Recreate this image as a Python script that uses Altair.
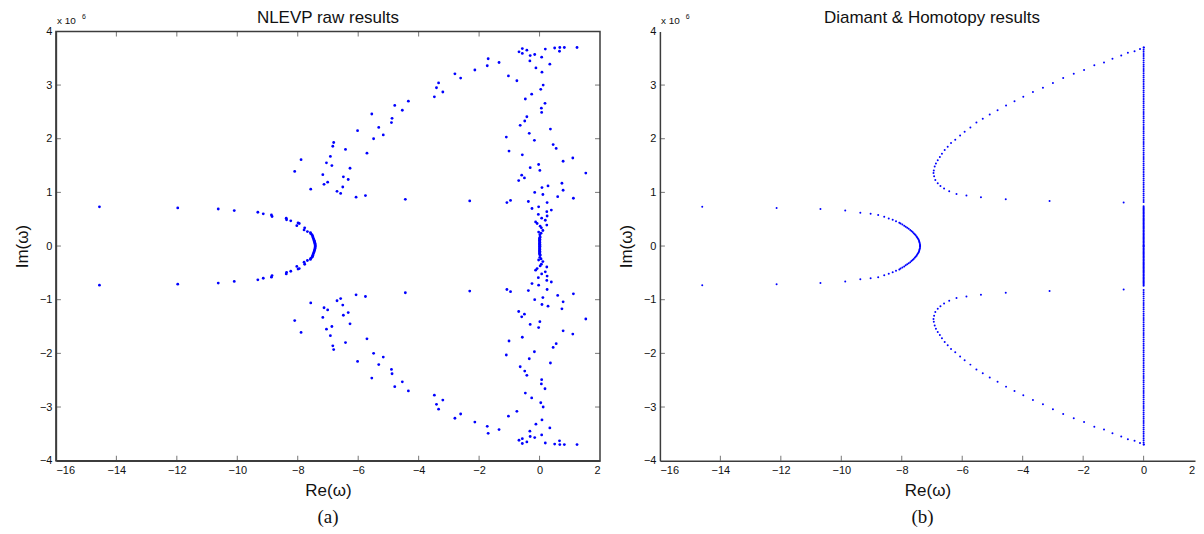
import altair as alt
import pandas as pd

# ---------------- data (Im values in units of 1e6; upper half, conjugates mirrored) -------------
# Panel (a): NLEVP raw results
a_re = [
    -14.56, -11.97, -10.63, -10.10, -9.32, -9.14, -8.87, -8.85, -8.38, -8.37, -8.23, -7.99, -7.95, -8.03,
    -7.77, -7.79, -7.68, -7.58, -7.57, -7.53, -7.51, -7.50, -7.49, -7.475, -7.46, -7.45, -7.44, -7.43,
    -7.425, -7.42,
    -4.34, -4.79, -4.54, -5.55, -4.88, -4.90, -5.32, -6.02, -5.17, -5.49, -6.81, -6.84, -6.42, -5.71,
    -6.92, -7.89, -7.05, -6.87, -6.27, -8.10, -7.17, -6.49, -6.33, -7.01, -7.13, -6.51, -7.57, -6.70,
    -6.58, -5.76, -6.07, -4.44,
    -0.57, -0.42, -0.68, -0.57, 0.19, 0.50, 0.67, 0.82, 1.24, 0.66, -0.31, -0.16, 0.07, -0.32, -1.70,
    -1.34, 0.34, -1.73, -0.12, -2.14, 0.08, -2.80, -2.61, -1.03, -0.75, -3.34, -3.41, -3.20, -3.48,
    0.12, 0.04, -0.26, -0.47, 0.18, 0.06, 0.07, -0.42, -0.49, -0.64, 0.36, -0.34, -1.10, -0.17, 0.45,
    0.55, -1.01, -0.57, 1.10, 0.78, -0.03, -0.31, 0.01, 1.53, -0.59, -0.50, -0.69, 0.74, 0.28, 0.08,
    0.78, -0.16, 0.11, 0.60, 1.12, -2.31, -1.08, -0.96, -0.37, 0.25, -0.03, -0.25, 0.39, 0.24, -0.04,
    0.25, 0.07, 0.19, -0.13, -0.08, 0.24, 0.02, 0.06, 0.11, -0.03, 0.05, 0.01, 0.02,
    0.01, 0.0, 0.01, 0.0, 0.01, 0.0, 0.01, 0.0, 0.01, 0.0, 0.01,
]
a_im = [
    0.73, 0.71, 0.69, 0.66, 0.63, 0.60, 0.58, 0.55, 0.52, 0.49, 0.47, 0.43, 0.42, 0.38,
    0.34, 0.30, 0.27, 0.25, 0.23, 0.21, 0.19, 0.17, 0.15, 0.13, 0.11, 0.09, 0.07, 0.05,
    0.03, 0.01,
    2.70, 2.62, 2.53, 2.46, 2.38, 2.30, 2.21, 2.15, 2.07, 2.00, 1.93, 1.86, 1.80, 1.73,
    1.67, 1.61, 1.55, 1.50, 1.45, 1.39, 1.33, 1.29, 1.24, 1.19, 1.15, 1.10, 1.06, 1.02,
    0.98, 0.94, 0.91, 0.87,
    3.68, 3.65, 3.62, 3.59, 3.67, 3.69, 3.70, 3.70, 3.70, 3.63, 3.55, 3.57, 3.52, 3.45, 3.49,
    3.42, 3.39, 3.36, 3.32, 3.28, 3.24, 3.21, 3.13, 3.17, 3.08, 3.04, 2.95, 2.87, 2.78,
    3.00, 2.92, 2.83, 2.74, 2.66, 2.57, 2.49, 2.41, 2.33, 2.25, 2.18, 2.10, 2.03, 1.97, 1.89,
    1.82, 1.77, 1.70, 1.64, 1.58, 1.52, 1.46, 1.41, 1.36, 1.32, 1.27, 1.22, 1.17, 1.12, 1.09,
    1.04, 1.00, 0.96, 0.92, 0.89, 0.84, 0.81, 0.85, 0.83, 0.81, 0.73, 0.70, 0.67, 0.64, 0.59,
    0.56, 0.52, 0.48, 0.45, 0.42, 0.39, 0.37, 0.34, 0.29, 0.26, 0.24, 0.21, 0.17,
    0.155, 0.14, 0.125, 0.11, 0.095, 0.08, 0.065, 0.05, 0.035, 0.02, 0.005,
]

# Panel (b): Diamant & Homotopy results
b_re = [
    -14.60, -12.14, -10.69, -9.87, -9.37, -9.03, -8.78, -8.58, -8.43, -8.30, -8.19, -8.08,
    -8.04, -7.98, -7.92, -7.87, -7.82, -7.77, -7.72, -7.68, -7.64, -7.605, -7.57, -7.54, -7.51,
    -7.49, -7.465, -7.445, -7.43, -7.42, -7.41, -7.40, -7.395, -7.395,
    0.01, -0.12, -0.30, -0.52, -0.74, -1.03, -1.31, -1.63, -1.97, -2.31, -2.66, -3.00, -3.33,
    -3.66, -3.98, -4.27, -4.55, -4.83, -5.09, -5.32, -5.53, -5.73, -5.92, -6.07, -6.23, -6.37,
    -6.48, -6.58, -6.67, -6.74, -6.81, -6.87, -6.91, -6.94, -6.95, -6.93, -6.89, -6.81, -6.72,
    -6.60, -6.43, -6.19, -5.86, -5.38, -4.56, -3.11, -0.66,
]
b_im = [
    0.73, 0.71, 0.69, 0.66, 0.62, 0.60, 0.58, 0.545, 0.515, 0.49, 0.46, 0.435,
    0.42, 0.40, 0.38, 0.36, 0.34, 0.32, 0.30, 0.28, 0.26, 0.24, 0.22, 0.20, 0.18,
    0.16, 0.14, 0.12, 0.10, 0.08, 0.06, 0.04, 0.02, 0.00,
    3.70, 3.67, 3.63, 3.60, 3.55, 3.49, 3.42, 3.37, 3.28, 3.21, 3.13, 3.04, 2.95,
    2.87, 2.78, 2.70, 2.62, 2.53, 2.45, 2.37, 2.30, 2.21, 2.13, 2.06, 1.98, 1.92,
    1.85, 1.79, 1.72, 1.66, 1.60, 1.54, 1.48, 1.41, 1.36, 1.30, 1.23, 1.17, 1.12,
    1.07, 1.02, 0.97, 0.94, 0.91, 0.87, 0.84, 0.81,
]
# Panel (b): eigenvalues on the imaginary axis (Re = 0)
b_axis_im = [
    0.00, 0.02, 0.04, 0.06, 0.08, 0.10, 0.12, 0.14, 0.16, 0.18, 0.20, 0.22, 0.24, 0.26, 0.28,
    0.30, 0.32, 0.34, 0.36, 0.38, 0.40, 0.42, 0.44, 0.46, 0.48, 0.50, 0.52, 0.54, 0.56, 0.58,
    0.60, 0.62, 0.64, 0.66, 0.68, 0.70, 0.72, 0.74,
    0.82, 0.86, 0.90, 0.94, 0.98, 1.02, 1.06, 1.10, 1.14, 1.18, 1.22, 1.26, 1.30, 1.34, 1.38,
    1.42, 1.46, 1.50, 1.54, 1.58, 1.62, 1.66, 1.70, 1.74, 1.78, 1.82, 1.86, 1.90, 1.94, 1.98,
    2.02, 2.06, 2.10, 2.14, 2.18, 2.22, 2.26, 2.30, 2.34, 2.38, 2.42, 2.46, 2.50, 2.54, 2.58,
    2.62, 2.66, 2.70, 2.74, 2.78, 2.82, 2.86, 2.90, 2.94, 2.98, 3.02, 3.06, 3.10, 3.14, 3.18,
    3.22, 3.26, 3.30, 3.34, 3.38, 3.42, 3.46, 3.50, 3.54, 3.58, 3.62, 3.66, 3.70,
]

x_ticks = [-16, -14, -12, -10, -8, -6, -4, -2, 0, 2]
y_ticks = [-4, -3, -2, -1, 0, 1, 2, 3, 4]
titles = ["NLEVP raw results", "Diamant & Homotopy results"]
captions = ["(a)", "(b)"]
x_title = "Re(ω)"
y_title = "Im(ω)"
exp_base = ["x 10"]
exp_power = ["6"]
edge_label = ["2"]          # last x tick label of panel (b), cut by the figure edge

# ---------------- build tables ----------------
def with_conjugates(re, im):
    return pd.DataFrame({"re": list(re) + list(re), "im": list(im) + [-v for v in im]})

df_a = with_conjugates(a_re, a_im)
df_b = with_conjugates(b_re + [0.0] * len(b_axis_im), b_im + b_axis_im)

FONT = "Liberation Sans"
BLUE = "#0000ff"
AX = "#3c3c3c"
H = 430
PX_PER_UNIT = 545 / 18.0


def text_layer(txt, x, y, size, font=FONT, align="center", baseline="middle"):
    return alt.Chart(pd.DataFrame({"t": txt})).mark_text(
        align=align, baseline=baseline, fontSize=size, font=font, color="#111").encode(
        text="t:N", x=alt.value(x), y=alt.value(y))


def panel(df, title, caption, cap_x, box, dot_size, xmax):
    W = round(PX_PER_UNIT * (xmax + 16))
    xvals = [v for v in x_ticks if v <= xmax]
    xs = alt.Scale(domain=[-16, xmax], nice=False, zero=False)
    ys = alt.Scale(domain=[-4, 4], nice=False, zero=False)
    xax = alt.Axis(values=xvals, format="d", title=x_title, ticks=False, tickSize=0,
                   grid=False, labelPadding=4, titlePadding=7)
    yax = alt.Axis(values=y_ticks, format="d", title=y_title, ticks=False, tickSize=0,
                   grid=False, labelPadding=4, titlePadding=8)
    pts = alt.Chart(df).mark_circle(size=dot_size, color=BLUE, opacity=1).encode(
        x=alt.X("re:Q", scale=xs, axis=xax, title=x_title),
        y=alt.Y("im:Q", scale=ys, axis=yax, title=y_title),
    )
    tx = pd.DataFrame({"t": [v for v in x_ticks if -16 < v < 2]})
    ty = pd.DataFrame({"t": y_ticks[1:-1]})
    layers = [pts]
    layers.append(alt.Chart(tx).mark_tick(orient="vertical", size=5, thickness=1, color=AX,
                                          yOffset=-2.5).encode(
        x=alt.X("t:Q", scale=xs, axis=xax, title=x_title),
        y=alt.YDatum(-4, scale=ys, axis=yax, title=y_title)))
    layers.append(alt.Chart(ty).mark_tick(orient="horizontal", size=5, thickness=1, color=AX,
                                          xOffset=2.5).encode(
        y=alt.Y("t:Q", scale=ys, axis=yax, title=y_title),
        x=alt.XDatum(-16, scale=xs, axis=xax, title=x_title)))
    if box:
        layers.append(alt.Chart(tx).mark_tick(orient="vertical", size=5, thickness=1, color=AX,
                                              yOffset=2.5).encode(
            x=alt.X("t:Q", scale=xs, axis=xax, title=x_title),
            y=alt.YDatum(4, scale=ys, axis=yax, title=y_title)))
        layers.append(alt.Chart(ty).mark_tick(orient="horizontal", size=5, thickness=1, color=AX,
                                              xOffset=-2.5).encode(
            y=alt.Y("t:Q", scale=ys, axis=yax, title=y_title),
            x=alt.XDatum(xmax, scale=xs, axis=xax, title=x_title)))
    else:
        layers.append(text_layer(edge_label, W, H + 4, 11, align="right", baseline="top"))
    layers.append(text_layer([title], 272.5, -8, 17, baseline="alphabetic"))
    layers.append(text_layer(exp_base, 1, -5, 10, align="left", baseline="bottom"))
    layers.append(text_layer(exp_power, 26, -11, 7, align="left", baseline="bottom"))
    layers.append(text_layer([caption], cap_x, H + 56, 19, font="Liberation Serif"))
    view = alt.ViewBackground(stroke=AX, strokeWidth=1.5) if box else alt.ViewBackground(stroke="transparent")
    return alt.layer(*layers).properties(width=W, height=H, view=view)


left = panel(df_a, titles[0], captions[0], 272.5, True, 8, 2)
right = panel(df_b, titles[1], captions[1], 263, False, 4, 1.7)

chart = alt.hconcat(left, right, spacing=60, bounds="flush").properties(
    padding={"left": 4, "top": 0, "right": 0, "bottom": 0}
).configure_axis(
    labelFont=FONT, labelFontSize=11, labelColor="#111",
    titleFont=FONT, titleFontSize=17, titleFontWeight="normal", titleColor="#111",
    domainColor=AX, domainWidth=1.5,
).configure_view(stroke="transparent")

chart.save("out.html", embed_options={"renderer": "svg", "actions": False})
